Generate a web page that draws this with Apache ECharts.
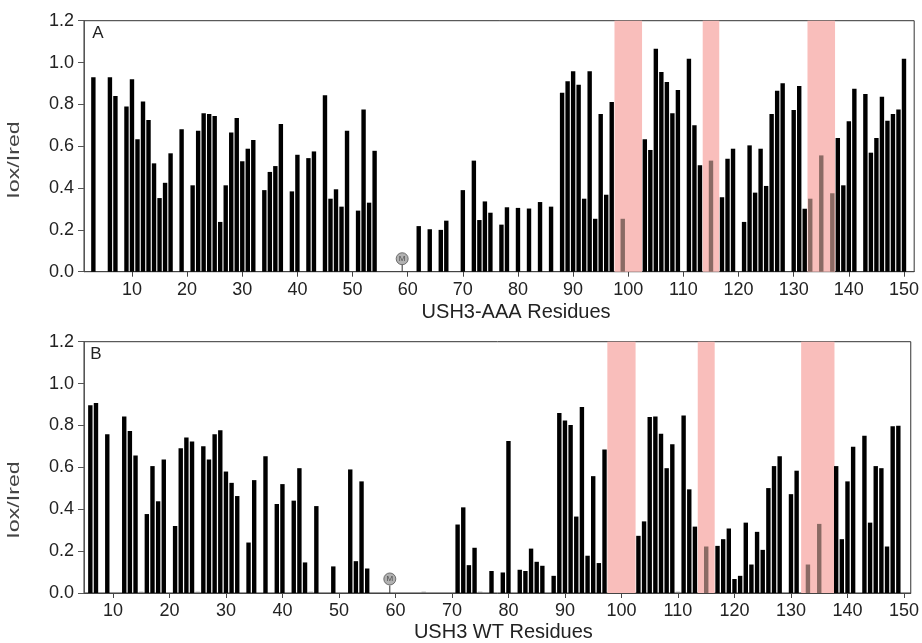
<!DOCTYPE html>
<html>
<head>
<meta charset="utf-8">
<script src="https://cdn.jsdelivr.net/npm/echarts@6/dist/echarts.min.js"></script>
<style>html,body{margin:0;padding:0;background:#fff;}#c{width:922px;height:643px;}</style>
</head>
<body>
<div id="c"></div>
<script>
// ---- Data ----
const xTicks = [10,20,30,40,50,60,70,80,90,100,110,120,130,140,150];
const yTicks = [0,0.2,0.4,0.6,0.8,1.0,1.2];

const residuesA = [3,6,7,9,10,11,12,13,14,15,16,17,19,21,22,23,24,25,26,27,28,29,30,31,32,34,35,36,37,39,40,42,43,45,46,47,48,49,51,52,53,54,62,64,66,67,70,72,73,74,75,77,78,80,82,84,86,88,89,90,91,92,93,94,95,96,97,99,103,104,105,106,107,108,109,111,112,113,115,117,118,119,121,122,123,124,125,126,127,128,130,131,132,133,135,137,138,139,140,141,143,144,145,146,147,148,149,150];
const valuesA = [0.93,0.93,0.84,0.79,0.92,0.633,0.814,0.725,0.518,0.352,0.425,0.566,0.681,0.413,0.674,0.757,0.754,0.744,0.238,0.413,0.665,0.735,0.528,0.588,0.63,0.39,0.477,0.505,0.706,0.384,0.559,0.543,0.575,0.843,0.349,0.394,0.311,0.674,0.292,0.776,0.33,0.578,0.218,0.203,0.2,0.244,0.39,0.531,0.247,0.336,0.282,0.225,0.308,0.305,0.302,0.333,0.311,0.856,0.91,0.958,0.894,0.349,0.958,0.253,0.754,0.368,0.811,0.253,0.633,0.582,1.066,0.955,0.907,0.757,0.869,1.018,0.7,0.509,0.531,0.356,0.54,0.588,0.238,0.604,0.378,0.588,0.41,0.754,0.865,0.901,0.773,0.888,0.301,0.349,0.556,0.375,0.639,0.413,0.719,0.875,0.849,0.569,0.639,0.837,0.722,0.754,0.776,1.018];

const residuesB = [6,7,9,12,13,14,15,16,17,18,19,21,22,23,24,25,26,27,28,29,30,31,32,34,35,37,39,40,42,43,44,45,46,49,52,53,54,55,65,71,72,73,74,75,77,79,80,82,83,84,85,86,88,89,90,91,92,93,94,95,96,97,103,104,105,106,107,108,109,110,111,112,113,115,117,118,119,120,121,122,123,124,125,126,127,128,130,131,133,135,138,139,140,141,143,144,145,146,147,148,149];
const valuesB = [0.897,0.907,0.758,0.843,0.774,0.656,0.006,0.377,0.606,0.438,0.637,0.32,0.691,0.742,0.723,0.006,0.701,0.637,0.758,0.777,0.58,0.526,0.463,0.241,0.539,0.653,0.425,0.52,0.441,0.596,0.146,0.006,0.415,0.127,0.59,0.152,0.533,0.117,0.006,0.327,0.409,0.133,0.216,0.006,0.105,0.098,0.726,0.111,0.105,0.212,0.149,0.13,0.082,0.859,0.824,0.802,0.365,0.888,0.178,0.558,0.143,0.685,0.273,0.342,0.84,0.843,0.761,0.596,0.71,0.006,0.847,0.495,0.317,0.222,0.225,0.257,0.308,0.067,0.082,0.336,0.136,0.292,0.206,0.501,0.606,0.653,0.472,0.584,0.136,0.33,0.606,0.257,0.533,0.698,0.751,0.336,0.606,0.596,0.222,0.796,0.799];

const bandsA = [[97.5,102.5],[113.5,116.5],[132.5,137.5]];
const bandsB = [[97.5,102.5],[113.5,116.5],[131.8,137.7]];

const markerResidue = [59];
const markerValueA = [0.062];
const markerValueB = [0.067];
const markerStem = [0.036];

// ---- Chart ----
const FONT = '"Liberation Sans", Arial, Helvetica, sans-serif';
const chart = echarts.init(document.getElementById('c'), null, {renderer:'canvas'});

function inBand(r, bands){ return bands.some(b => r > b[0] && r < b[1]); }
function barData(res, vals, bands){
  return res.map((r,i)=>({value:[r, vals[i]], itemStyle:{color: inBand(r,bands) ? '#8a6a64' : (vals[i] < 0.02 ? '#888' : '#000')}}));
}

function xAxis(idx, min, max, name, gap, padLeft){
  return {
    gridIndex: idx, type:'value', min:min, max:max,
    axisLine:{show:true, lineStyle:{color:'#444', width:1}},
    axisTick:{show:true, customValues:xTicks, length:5, lineStyle:{color:'#444'}},
    axisLabel:{show:true, customValues:xTicks, fontSize:18, color:'#222', margin:9, fontFamily:FONT},
    splitLine:{show:false},
    name:name, nameLocation:'middle', nameGap:gap,
    nameTextStyle:{fontSize:20, color:'#222', fontFamily:FONT, padding:[0,0,0,padLeft]}
  };
}
function yAxis(idx){
  return {
    gridIndex: idx, type:'value', min:0, max:1.2, interval:0.2,
    axisLine:{show:true, lineStyle:{color:'#555', width:1}},
    axisTick:{show:true, length:6, lineStyle:{color:'#555'}},
    axisLabel:{fontSize:18, color:'#222', margin:10, fontFamily:FONT, formatter:v=>v.toFixed(1)},
    splitLine:{show:false}
  };
}
function bandSeries(idx, bands){
  return {
    type:'line', xAxisIndex:idx, yAxisIndex:idx, data:[], z:1, silent:true,
    markArea:{silent:true, itemStyle:{color:'#f9bebb', opacity:1}, data: bands.map(b=>[{xAxis:b[0], yAxis:0},{xAxis:b[1], yAxis:1.2}])}
  };
}
function markerSeries(idx, yv){
  return [
    {type:'line', xAxisIndex:idx, yAxisIndex:idx, z:3, symbol:'none', silent:true,
     lineStyle:{color:'#333', width:1}, data:[[markerResidue[0],0],[markerResidue[0],markerStem[0]]]},
    {type:'scatter', xAxisIndex:idx, yAxisIndex:idx, z:4, symbol:'circle', symbolSize:12, silent:true,
     itemStyle:{color:'#9d9d9d', borderColor:'#555', borderWidth:1},
     label:{show:true, position:'inside', formatter:'M', fontSize:8, color:'#333', fontFamily:FONT},
     data:[[markerResidue[0], yv[0]]]}
  ];
}

const option = {
  animation:false,
  backgroundColor:'#fff',
  grid:[
    {left:84, top:20.7, width:832.7, height:251, show:true, borderColor:'#333', borderWidth:1, backgroundColor:'transparent'},
    {left:84, top:341.7, width:829, height:252.3, show:true, borderColor:'#333', borderWidth:1, backgroundColor:'transparent'}
  ],
  xAxis:[ xAxis(0, 1.3, 151.85, 'USH3-AAA Residues', 31, 34), xAxis(1, 4.88, 151.2, 'USH3 WT Residues', 29, 12) ],
  yAxis:[ yAxis(0), yAxis(1) ],
  graphic:[
    {type:'text', x:98, y:33.5, style:{text:'A', font:'17px '+FONT, fill:'#222', align:'center', verticalAlign:'middle'}},
    {type:'text', x:96, y:354, style:{text:'B', font:'17px '+FONT, fill:'#222', align:'center', verticalAlign:'middle'}},
    {type:'text', x:15, y:160, rotation:Math.PI/2, scaleX:1.45, style:{text:'Iox/Ired', font:'16px '+FONT, fill:'#444', align:'center', verticalAlign:'middle'}},
    {type:'text', x:15, y:500, rotation:Math.PI/2, scaleX:1.45, style:{text:'Iox/Ired', font:'16px '+FONT, fill:'#444', align:'center', verticalAlign:'middle'}}
  ],
  series:[
    bandSeries(0, bandsA),
    bandSeries(1, bandsB),
    {type:'bar', xAxisIndex:0, yAxisIndex:0, z:2, barWidth:4.4, silent:true, data:barData(residuesA, valuesA, bandsA)},
    {type:'bar', xAxisIndex:1, yAxisIndex:1, z:2, barWidth:4.4, silent:true, data:barData(residuesB, valuesB, bandsB)},
    ...markerSeries(0, markerValueA),
    ...markerSeries(1, markerValueB)
  ]
};
chart.setOption(option);
</script>
</body>
</html>
